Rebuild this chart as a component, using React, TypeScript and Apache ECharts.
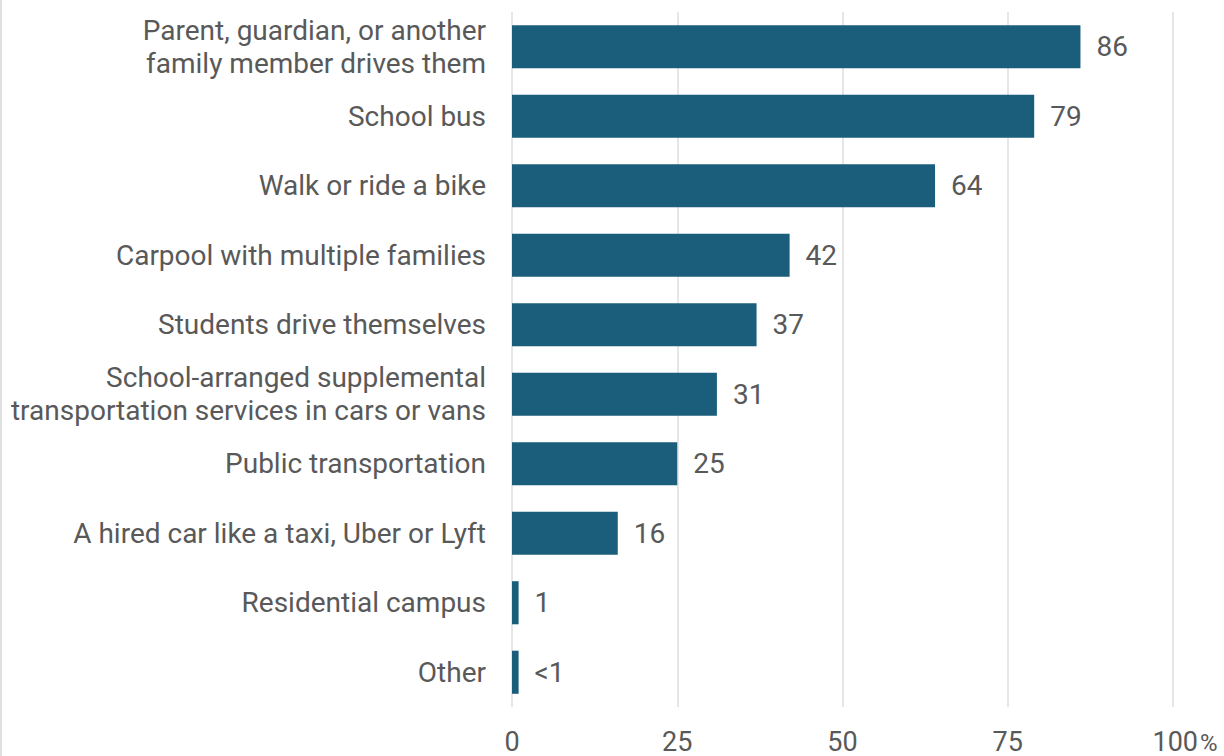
import React, { useEffect, useRef } from "react";
import * as echarts from "echarts";

const categories = [
  "Parent, guardian, or another\nfamily member drives them",
  "School bus",
  "Walk or ride a bike",
  "Carpool with multiple families",
  "Students drive themselves",
  "School-arranged supplemental\ntransportation services in cars or vans",
  "Public transportation",
  "A hired car like a taxi, Uber or Lyft",
  "Residential campus",
  "Other",
];
const values = [86, 79, 64, 42, 37, 31, 25, 16, 1, 1];
const valueLabels = ["86", "79", "64", "42", "37", "31", "25", "16", "1", "<1"];
const xTicks = [0, 25, 50, 75, 100];

const TEXT = "#595959";
const FONT = "Roboto, 'Noto Sans', sans-serif";

export default function App() {
  const ref = useRef<HTMLDivElement>(null);
  useEffect(() => {
    if (!ref.current) return;
    const chart = echarts.init(ref.current, undefined, { renderer: "svg" });
    chart.setOption({
      animation: false,
      backgroundColor: "#ffffff",
      textStyle: { fontFamily: FONT },
      grid: { left: 512, right: 51, top: 12, bottom: 49, containLabel: false },
      xAxis: {
        type: "value",
        min: xTicks[0],
        max: xTicks[xTicks.length - 1],
        interval: 25,
        axisLine: { show: false },
        axisTick: { show: false },
        splitLine: { show: true, lineStyle: { color: "#dedede", width: 1.5 } },
        axisLabel: {
          color: TEXT,
          fontSize: 27,
          lineHeight: 24,
          fontFamily: FONT,
          margin: 22.5,
          formatter: (v: number) =>
            v === 100 ? "{sp|}{n|100}{p|%}" : String(v),
          rich: {
            sp: { width: 24, lineHeight: 24 },
            n: { fontSize: 27, lineHeight: 24, color: TEXT, fontFamily: FONT },
            p: { fontSize: 24, lineHeight: 24, color: TEXT, fontFamily: FONT, padding: [2, 0, 0, 2] },
          },
        },
      },
      yAxis: {
        type: "category",
        data: categories,
        inverse: true,
        axisLine: { show: false },
        axisTick: { show: false },
        axisLabel: {
          color: TEXT,
          fontSize: 28,
          lineHeight: 33,
          fontFamily: FONT,
          margin: 26,
          align: "right",
        },
      },
      series: [
        {
          type: "bar",
          data: values,
          barCategoryGap: "38%",
          itemStyle: { color: "#1a5e7c" },
          label: {
            show: true,
            position: "right",
            distance: 16,
            color: TEXT,
            fontSize: 28,
            fontFamily: FONT,
            formatter: (p: any) => valueLabels[p.dataIndex],
          },
        },
      ],
      graphic: [
        {
          type: "rect",
          left: 0,
          top: 0,
          shape: { width: 2, height: 756 },
          style: { fill: "#e0e0e0" },
        },
      ],
    });
    return () => chart.dispose();
  }, []);
  return (
    <div
      ref={ref}
      style={{ position: "fixed", left: 0, top: 0, width: 1224, height: 756 }}
    />
  );
}
